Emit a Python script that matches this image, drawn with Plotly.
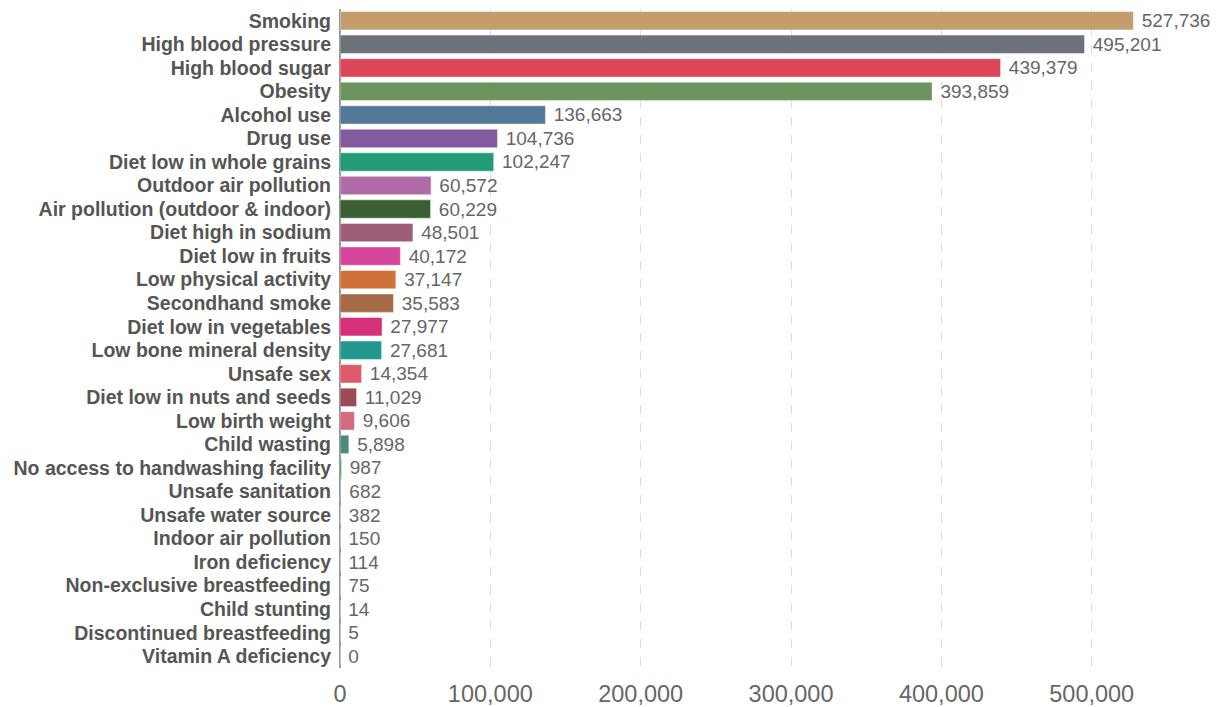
import plotly.graph_objects as go

categories = [
    "Smoking", "High blood pressure", "High blood sugar", "Obesity", "Alcohol use",
    "Drug use", "Diet low in whole grains", "Outdoor air pollution",
    "Air pollution (outdoor & indoor)", "Diet high in sodium", "Diet low in fruits",
    "Low physical activity", "Secondhand smoke", "Diet low in vegetables",
    "Low bone mineral density", "Unsafe sex", "Diet low in nuts and seeds",
    "Low birth weight", "Child wasting", "No access to handwashing facility",
    "Unsafe sanitation", "Unsafe water source", "Indoor air pollution",
    "Iron deficiency", "Non-exclusive breastfeeding", "Child stunting",
    "Discontinued breastfeeding", "Vitamin A deficiency",
]
values = [
    527736, 495201, 439379, 393859, 136663, 104736, 102247, 60572, 60229, 48501,
    40172, 37147, 35583, 27977, 27681, 14354, 11029, 9606, 5898, 987, 682, 382,
    150, 114, 75, 14, 5, 0,
]
colors = [
    "#C49C6E", "#6D717A", "#DC4659", "#6D945D", "#53799A", "#8359A0", "#249B77",
    "#B06CA8", "#3A5F33", "#9E5E7A", "#D5459B", "#D0703A", "#A76A48", "#D6307B",
    "#24988E", "#E05A69", "#9A4B56", "#D46A7E", "#4B8A7D", "#1DA25C", "#7585B5",
    "#6F86B3", "#9A8F80", "#B07050", "#8E6CA8", "#5F8F6A", "#C0805A", "#888888",
]
tick_vals = [0, 100000, 200000, 300000, 400000, 500000]
tick_text = ["0", "100,000", "200,000", "300,000", "400,000", "500,000"]

FONT = "Liberation Sans, Arial, Helvetica, sans-serif"

fig = go.Figure(go.Bar(
    x=values,
    y=categories,
    orientation="h",
    marker=dict(color=colors, line=dict(color="rgba(255,255,255,0.45)", width=1)),
    text=[" " + f"{v:,}" for v in values],
    textposition="outside",
    constraintext="none",
    cliponaxis=False,
    textfont=dict(family=FONT, size=19, color="#666666"),
    hoverinfo="x+y",
))

fig.update_layout(
    width=1210, height=699,
    margin=dict(l=332, r=0, t=1, b=36),
    paper_bgcolor="white", plot_bgcolor="white",
    bargap=0.22,
    showlegend=False,
    font=dict(family=FONT),
)
fig.update_xaxes(
    range=[0, 584000],
    tickvals=tick_vals, ticktext=tick_text,
    tickfont=dict(family=FONT, size=23.5, color="#666666"),
    showgrid=True, gridcolor="#dddddd", griddash="dash", gridwidth=1,
    zeroline=True, zerolinecolor="#999999", zerolinewidth=1.5,
    ticks="", ticklabelstandoff=9,
    showline=False,
)
fig.update_yaxes(
    autorange="reversed",
    tickmode="array", tickvals=categories, ticktext=categories,
    tickfont=dict(family=FONT, size=19.5, color="#555555", weight="bold"),
    ticks="", ticklabelstandoff=8,
    showgrid=False, showline=False,
)

fig.write_html("out.html")
